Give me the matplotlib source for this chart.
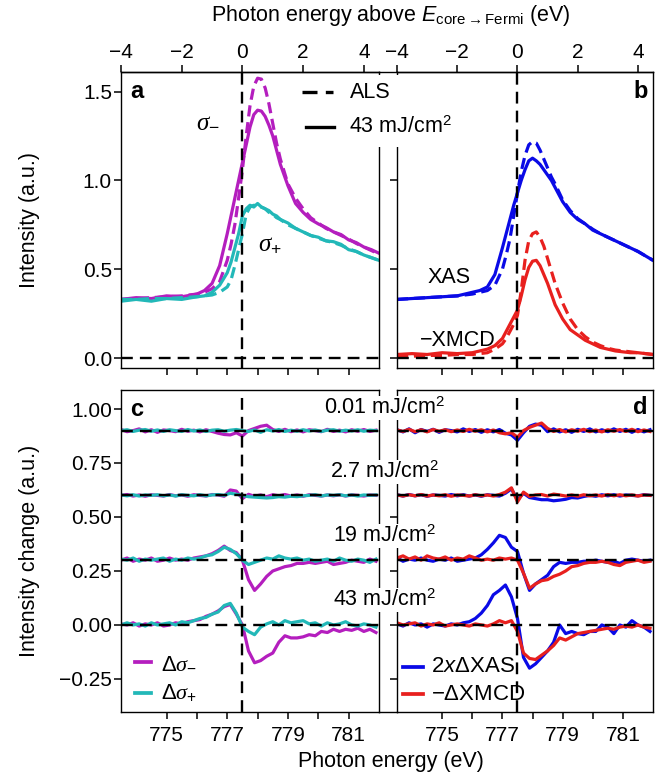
import numpy as np
import matplotlib
matplotlib.use('Agg')
import matplotlib.pyplot as plt
from matplotlib.lines import Line2D
from matplotlib.patches import Rectangle

plt.rcParams['font.family'] = ['Liberation Sans', 'DejaVu Sans']
plt.rcParams['mathtext.fontset'] = 'custom'
plt.rcParams['mathtext.rm'] = 'Liberation Sans'
plt.rcParams['mathtext.sf'] = 'Liberation Sans'
plt.rcParams['mathtext.it'] = 'Liberation Serif:italic'
plt.rcParams['mathtext.cal'] = 'Liberation Sans:italic'
plt.rcParams['mathtext.bf'] = 'Liberation Sans:bold'

# ---------------- data ----------------
E_F = 777.5
E_ab = [773.5, 774.0, 774.5, 775.0, 775.5, 776.0, 776.25, 776.5, 776.75, 777.0,
        777.125, 777.25, 777.375, 777.5, 777.625, 777.75, 777.875, 778.0, 778.125,
        778.25, 778.375, 778.5, 778.625, 778.75, 779.0, 779.25, 779.5, 779.75, 780.0,
        780.25, 780.5, 780.75, 781.0, 781.25, 781.5, 781.75, 782.0]

sig_minus_als = [0.33, 0.335, 0.34, 0.345, 0.35, 0.36, 0.37, 0.39, 0.43, 0.55, 0.64, 0.75, 0.9,
                 1.06, 1.25, 1.42, 1.53, 1.575, 1.57, 1.52, 1.43, 1.32, 1.21, 1.12, 0.98, 0.9,
                 0.84, 0.79, 0.76, 0.73, 0.71, 0.69, 0.67, 0.645, 0.625, 0.605, 0.585]
sig_minus_43 = [0.33, 0.34, 0.335, 0.35, 0.345, 0.36, 0.38, 0.42, 0.52, 0.70, 0.80, 0.90, 1.0,
                1.10, 1.2, 1.3, 1.37, 1.395, 1.39, 1.36, 1.31, 1.25, 1.17, 1.09, 0.97, 0.87,
                0.82, 0.78, 0.755, 0.735, 0.71, 0.695, 0.665, 0.65, 0.625, 0.61, 0.59]
sig_plus_als = [0.33, 0.33, 0.335, 0.335, 0.34, 0.345, 0.35, 0.355, 0.37, 0.40, 0.44, 0.52, 0.61,
                0.70, 0.81, 0.85, 0.86, 0.855, 0.85, 0.84, 0.82, 0.81, 0.79, 0.78, 0.75, 0.73,
                0.71, 0.69, 0.675, 0.66, 0.65, 0.635, 0.615, 0.60, 0.58, 0.565, 0.55]
sig_plus_43 = [0.32, 0.33, 0.32, 0.335, 0.33, 0.345, 0.35, 0.37, 0.41, 0.48, 0.54, 0.62, 0.70,
               0.80, 0.84, 0.86, 0.85, 0.87, 0.85, 0.84, 0.83, 0.81, 0.80, 0.78, 0.76, 0.73,
               0.71, 0.69, 0.68, 0.66, 0.655, 0.64, 0.61, 0.60, 0.58, 0.565, 0.55]

xas_als = [0.33, 0.335, 0.34, 0.345, 0.35, 0.36, 0.37, 0.38, 0.41, 0.50, 0.58, 0.67, 0.80, 0.93,
           1.05, 1.14, 1.20, 1.218, 1.21, 1.17, 1.12, 1.07, 1.02, 0.98, 0.89, 0.83, 0.785, 0.755,
           0.725, 0.70, 0.68, 0.66, 0.64, 0.62, 0.60, 0.575, 0.55]
xas_43 = [0.33, 0.335, 0.34, 0.345, 0.35, 0.37, 0.38, 0.40, 0.47, 0.62, 0.70, 0.78, 0.86, 0.93,
          1.0, 1.06, 1.11, 1.125, 1.11, 1.09, 1.06, 1.03, 1.0, 0.96, 0.88, 0.82, 0.78, 0.755,
          0.72, 0.70, 0.68, 0.66, 0.64, 0.62, 0.60, 0.575, 0.55]
xmcd_als = [0.01, 0.01, 0.015, 0.015, 0.02, 0.02, 0.025, 0.03, 0.05, 0.08, 0.11, 0.15, 0.19, 0.24,
            0.38, 0.55, 0.66, 0.70, 0.71, 0.68, 0.63, 0.56, 0.49, 0.42, 0.31, 0.22, 0.16, 0.12,
            0.09, 0.07, 0.055, 0.045, 0.04, 0.035, 0.03, 0.025, 0.02]
xmcd_43 = [0.02, 0.025, 0.02, 0.03, 0.025, 0.03, 0.04, 0.05, 0.07, 0.11, 0.15, 0.19, 0.23, 0.27,
           0.35, 0.44, 0.51, 0.545, 0.55, 0.52, 0.47, 0.42, 0.36, 0.30, 0.22, 0.16, 0.13, 0.10,
           0.08, 0.06, 0.05, 0.04, 0.035, 0.03, 0.03, 0.025, 0.02]

E_cd = [773.5, 773.7, 773.9, 774.1, 774.3, 774.5, 774.7, 774.9, 775.1, 775.3, 775.5, 775.7,
        775.9, 776.1, 776.3, 776.5, 776.7, 776.9, 777.1, 777.3, 777.5, 777.7, 777.9, 778.1,
        778.3, 778.5, 778.7, 778.9, 779.1, 779.3, 779.5, 779.7, 779.9, 780.1, 780.3, 780.5,
        780.7, 780.9, 781.1, 781.3, 781.5, 781.7, 781.9]
fluences = ['0.01', '2.7', '19', '43']
offsets = [0.9, 0.6, 0.3, 0.0]

d_sig_minus = {
    '0.01': [0.005, -0.005, 0.0, 0.008, -0.006, 0.004, -0.008, 0.003, 0.0, -0.005, 0.006, -0.003,
             0.002, -0.006, 0.004, -0.004, -0.012, -0.018, -0.02, -0.01, -0.025, 0.0, 0.01,
             0.02, 0.025, 0.005, -0.004, 0.006, -0.005, 0.003, -0.006, 0.004, 0.0, -0.005, 0.006,
             -0.004, 0.002, -0.006, 0.004, -0.003, 0.005, -0.004, 0.002],
    '2.7': [0.0, 0.004, -0.003, 0.002, -0.004, 0.003, 0.0, -0.003, 0.004, -0.002, 0.002, -0.004,
            0.003, 0.0, -0.003, 0.004, 0.002, -0.004, 0.025, 0.02, -0.015, 0.005, -0.004,
            0.002, -0.006, 0.003, -0.002, 0.004, -0.003, 0.002, -0.004, 0.003, 0.0, -0.003, 0.002,
            -0.002, 0.003, -0.003, 0.002, 0.0, -0.003, 0.002, 0.0],
    '19': [0.0, 0.01, -0.005, 0.005, 0.0, 0.01, -0.005, 0.0, 0.01, 0.0, 0.005, 0.0, 0.01,
           0.015, 0.02, 0.03, 0.045, 0.065, 0.045, 0.035, 0.0, -0.09, -0.14, -0.11, -0.075,
           -0.05, -0.04, -0.03, -0.025, -0.015, -0.015, -0.01, -0.015, -0.01, -0.005, -0.02,
           -0.015, -0.01, 0.0, -0.005, -0.01, 0.005, -0.005],
    '43': [0.005, 0.0, 0.01, -0.005, 0.005, 0.0, 0.01, -0.005, 0.0, 0.01, 0.005, 0.015, 0.02,
           0.025, 0.04, 0.05, 0.065, 0.085, 0.095, 0.05, 0.0, -0.12, -0.175, -0.165, -0.145,
           -0.13, -0.08, -0.05, -0.06, -0.06, -0.055, -0.045, -0.05, -0.03, -0.035, -0.02,
           -0.03, -0.02, -0.025, -0.015, -0.03, -0.02, -0.035],
}
d_sig_plus = {
    '0.01': [0.0, 0.004, -0.004, 0.002, 0.005, -0.003, 0.003, -0.004, 0.004, 0.0, -0.004, 0.005,
             -0.002, 0.003, -0.004, 0.002, 0.004, -0.003, 0.002, 0.005, 0.0, -0.004, 0.003,
             -0.008, 0.004, -0.002, 0.005, -0.004, 0.002, -0.003, 0.004, -0.002, 0.003, -0.004,
             0.002, 0.004, -0.003, 0.002, -0.002, 0.004, -0.003, 0.002, 0.0],
    '2.7': [0.002, -0.002, 0.003, -0.003, 0.002, 0.0, 0.003, -0.002, 0.002, -0.003, 0.003, 0.0,
            -0.002, 0.003, -0.002, 0.002, 0.004, 0.0, 0.01, 0.005, 0.0, -0.006, -0.008, -0.01,
            -0.012, -0.01, -0.006, -0.008, -0.004, -0.006, -0.002, 0.0, 0.003, -0.003, 0.002,
            0.0, 0.003, -0.002, 0.002, -0.003, 0.002, 0.0, 0.002],
    '19': [0.005, 0.0, 0.01, -0.005, 0.005, 0.0, 0.005, 0.01, -0.005, 0.005, 0.0, 0.01, 0.005,
           0.01, 0.02, 0.025, 0.04, 0.06, 0.05, 0.03, 0.0, -0.02, -0.01, 0.0, 0.01, 0.005, 0.02,
           0.01, 0.005, 0.01, 0.0, 0.005, -0.005, 0.0, 0.005, -0.005, 0.01, 0.0, -0.005, 0.005,
           0.0, -0.01, 0.005],
    '43': [0.0, 0.01, 0.0, 0.005, -0.005, 0.01, 0.0, 0.005, 0.01, 0.0, 0.015, 0.01, 0.02, 0.03,
           0.035, 0.05, 0.06, 0.09, 0.10, 0.055, -0.01, -0.03, -0.045, -0.01, 0.005, 0.015, 0.0,
           0.02, 0.01, 0.015, 0.02, 0.005, 0.01, -0.005, 0.01, 0.0, 0.005, 0.015, 0.0, -0.005,
           0.005, 0.0, -0.01],
}
d_xas2 = {
    '0.01': [0.004, -0.006, 0.008, -0.01, 0.005, -0.004, 0.006, -0.008, 0.004, 0.0, -0.006, 0.008,
             -0.004, 0.005, -0.008, 0.004, -0.006, 0.005, -0.012, -0.02, -0.045, -0.01, 0.02,
             0.03, 0.025, -0.005, 0.008, -0.006, 0.004, -0.008, 0.006, -0.004, 0.008, -0.006,
             0.004, -0.005, 0.008, -0.004, 0.006, -0.008, 0.005, -0.006, 0.004],
    '2.7': [0.003, -0.003, 0.004, -0.002, 0.003, -0.004, 0.002, 0.0, -0.003, 0.004, -0.002,
            0.003, -0.003, 0.002, -0.004, 0.003, 0.0, -0.003, 0.01, 0.03, -0.02, 0.01, -0.01,
            -0.015, -0.02, -0.02, -0.025, -0.022, -0.018, -0.01, -0.012, -0.005, 0.0, -0.004,
            0.003, -0.002, 0.003, -0.003, 0.002, 0.0, -0.002, 0.003, 0.0],
    '19': [0.01, -0.005, 0.005, 0.0, 0.01, 0.0, -0.005, 0.005, 0.0, 0.01, -0.005, 0.0, 0.005,
           0.01, 0.025, 0.05, 0.08, 0.115, 0.105, 0.06, 0.04, -0.06, -0.14, -0.11, -0.09,
           -0.07, -0.03, -0.01, -0.015, -0.01, -0.01, -0.005, -0.005, 0.0, -0.005, -0.01,
           -0.005, -0.015, 0.0, 0.005, 0.0, -0.005, 0.0],
    '43': [0.005, -0.005, 0.01, 0.0, 0.005, -0.01, 0.005, 0.0, -0.005, 0.005, 0.0, 0.01, 0.015,
           0.03, 0.055, 0.09, 0.14, 0.16, 0.185, 0.13, 0.03, -0.15, -0.20, -0.18, -0.15, -0.12,
           -0.08, 0.0, -0.04, -0.03, -0.04, -0.045, -0.03, -0.03, 0.0, -0.01, -0.04, 0.0, -0.01,
           0.02, 0.0, -0.01, -0.03],
}
d_xmcd = {
    '0.01': [0.003, -0.004, 0.006, -0.005, 0.004, -0.006, 0.005, -0.003, 0.004, -0.005, 0.003,
             -0.004, 0.006, -0.003, 0.004, -0.006, 0.003, -0.01, -0.015, -0.01, -0.03, 0.0,
             0.015, 0.025, 0.035, 0.01, -0.004, 0.005, -0.006, 0.004, -0.003, 0.006, -0.005,
             0.003, -0.006, 0.004, -0.003, 0.005, -0.004, 0.006, -0.005, 0.003, -0.004],
    '2.7': [0.002, -0.003, 0.003, -0.002, 0.004, -0.003, 0.002, -0.002, 0.003, -0.004, 0.002,
            0.0, -0.003, 0.003, -0.002, 0.002, -0.003, 0.004, 0.015, 0.035, -0.03, 0.015,
            -0.005, 0.002, 0.004, -0.003, 0.006, 0.002, -0.003, 0.002, -0.004, 0.003, -0.002,
            0.002, -0.003, 0.004, -0.002, 0.003, -0.002, 0.002, -0.003, 0.002, 0.0],
    '19': [0.01, 0.02, 0.005, 0.015, 0.0, 0.02, 0.01, 0.005, 0.015, 0.0, 0.01, 0.005, 0.02,
           0.01, 0.0, 0.005, 0.0, 0.01, 0.005, 0.01, 0.0, -0.06, -0.13, -0.11, -0.095, -0.09,
           -0.075, -0.065, -0.05, -0.03, -0.025, -0.015, -0.01, -0.01, -0.005, -0.01, -0.02,
           -0.025, -0.01, -0.005, 0.0, -0.01, -0.005],
    '43': [0.01, 0.0, 0.005, 0.01, -0.005, 0.005, 0.0, 0.01, -0.005, 0.0, 0.005, 0.0, -0.005,
           0.005, 0.0, -0.005, 0.005, 0.02, 0.01, 0.02, -0.03, -0.13, -0.155, -0.16, -0.14,
           -0.12, -0.095, -0.06, -0.07, -0.055, -0.04, -0.035, -0.03, -0.025, -0.02, -0.015,
           -0.02, -0.01, -0.005, -0.01, 0.0, -0.01, -0.015],
}

x_ticks = [775, 776, 777, 778, 779, 780, 781]
x_ticklabels = ['775', '', '777', '', '779', '', '781']
top_ticks = [-4, -2, 0, 2, 4]
yt_top = [0.0, 0.5, 1.0, 1.5]
yt_top_labels = ['0.0', '0.5', '1.0', '1.5']
yt_bot = [-0.25, 0.0, 0.25, 0.5, 0.75, 1.0]
yt_bot_labels = ['\u22120.25', '0.00', '0.25', '0.50', '0.75', '1.00']

# ---------------- style ----------------
MAG = '#B41EBE'
CYA = '#22B8B8'
BLU = '#0A0AE6'
RED = '#E8201E'
LW = 2.3
DASH = (0, (3.5, 1.8))
KDASH = (0, (5, 3))
FS = 15          # tick labels
FL = 15.5        # axis labels / annotations

W, H = 656, 775
fig = plt.figure(figsize=(W / 100, H / 100), dpi=100)


def fx(p):
    return p / W


def fy(p):
    return 1 - p / H


L0, L1 = 121, 379
R0, R1 = 397, 653
T0, T1 = 72, 368
B0, B1 = 390, 712
XLIM = (773.5, 782.0)

axA = fig.add_axes([fx(L0), fy(T1), (L1 - L0) / W, (T1 - T0) / H])
axB = fig.add_axes([fx(R0), fy(T1), (R1 - R0) / W, (T1 - T0) / H])
axC = fig.add_axes([fx(L0), fy(B1), (L1 - L0) / W, (B1 - B0) / H])
axD = fig.add_axes([fx(R0), fy(B1), (R1 - R0) / W, (B1 - B0) / H])

for ax in (axA, axB, axC, axD):
    ax.set_xlim(*XLIM)
    ax.set_xticks(x_ticks)
    ax.tick_params(axis='x', direction='out', length=5, width=1.1, labelsize=FS, pad=5)
    ax.tick_params(axis='y', direction='out', length=5, width=1.1, labelsize=FS, pad=1.5)
    for s in ax.spines.values():
        s.set_linewidth(1.0)
    ax.axvline(E_F, color='k', ls=KDASH, lw=1.7, zorder=5)

for ax in (axA, axB):
    ax.set_ylim(-0.056, 1.61)
    ax.set_yticks(yt_top)
    ax.set_xticklabels([])
    ax.axhline(0, color='k', ls=KDASH, lw=1.7, zorder=5)
    sec = ax.secondary_xaxis('top', functions=(lambda x: x - E_F, lambda x: x + E_F))
    sec.set_xticks(top_ticks)
    sec.set_xticklabels(['\u22124', '\u22122', '0', '2', '4'])
    sec.tick_params(direction='out', length=5, width=1.1, labelsize=FS, pad=2)
    sec.spines['top'].set_linewidth(1.0)
for ax in (axC, axD):
    ax.set_ylim(-0.403, 1.088)
    ax.set_yticks(yt_bot)
    ax.set_xticklabels(x_ticklabels)

axA.set_yticklabels(yt_top_labels)
axC.set_yticklabels(yt_bot_labels)
axB.set_yticklabels([])
axD.set_yticklabels([])

# panel a
axA.plot(E_ab, sig_minus_als, color=MAG, lw=LW, ls=DASH)
axA.plot(E_ab, sig_minus_43, color=MAG, lw=LW)
axA.plot(E_ab, sig_plus_als, color=CYA, lw=LW, ls=DASH)
axA.plot(E_ab, sig_plus_43, color=CYA, lw=LW)
# panel b
axB.plot(E_ab, xas_als, color=BLU, lw=LW, ls=DASH)
axB.plot(E_ab, xas_43, color=BLU, lw=LW)
axB.plot(E_ab, xmcd_als, color=RED, lw=LW, ls=DASH)
axB.plot(E_ab, xmcd_43, color=RED, lw=LW)
# panels c, d
for f, off in zip(fluences, offsets):
    axC.plot(E_cd, np.array(d_sig_minus[f]) + off, color=MAG, lw=LW)
    axC.plot(E_cd, np.array(d_sig_plus[f]) + off, color=CYA, lw=LW)
    axC.axhline(off, color='k', ls=KDASH, lw=1.7, zorder=5)
    axD.plot(E_cd, np.array(d_xas2[f]) + off, color=BLU, lw=LW)
    axD.plot(E_cd, np.array(d_xmcd[f]) + off, color=RED, lw=LW)
    axD.axhline(off, color='k', ls=KDASH, lw=1.7, zorder=5)

# continuous outer frame across the gap
for yy in (T0, B1):
    fig.add_artist(Line2D([fx(L1), fx(R0)], [fy(yy), fy(yy)], color='k', lw=1.0))

# legend (top) with white background covering gap spines
fig.add_artist(Rectangle((fx(296), fy(147)), (466 - 296) / W, (147 - 75) / H,
                         transform=fig.transFigure, facecolor='white', edgecolor='none', zorder=10))
fig.add_artist(Line2D([fx(302), fx(333)], [fy(92), fy(92)], color='k', lw=2.4, ls=(0, (4.5, 2.5)), zorder=11))
fig.add_artist(Line2D([fx(306), fx(334)], [fy(127), fy(127)], color='k', lw=2.4, zorder=11))
fig.text(fx(350), fy(92), 'ALS', fontsize=FL, va='center', ha='left', zorder=12)
fig.text(fx(349), fy(127), '43 mJ/cm$^2$', fontsize=FL, va='center', ha='left', zorder=12)

# fluence labels
for f, yy in zip(fluences, [408, 472, 536, 600]):
    fig.text(fx(384), fy(yy), f + ' mJ/cm$^2$', fontsize=FL, ha='center', va='center', zorder=12,
             bbox=dict(facecolor='white', edgecolor='none', pad=0.8))

# panel letters
fig.text(fx(130), fy(92), 'a', fontsize=17, fontweight='bold', va='center', ha='left')
fig.text(fx(648), fy(91), 'b', fontsize=17, fontweight='bold', va='center', ha='right')
fig.text(fx(130), fy(409), 'c', fontsize=17, fontweight='bold', va='center', ha='left')
fig.text(fx(648), fy(408), 'd', fontsize=17, fontweight='bold', va='center', ha='right')

# curve annotations
fig.text(fx(208), fy(120), r'$\sigma_{-}$', fontsize=18, ha='center', va='center')
fig.text(fx(270), fy(243), r'$\sigma_{+}$', fontsize=18, ha='center', va='center')
fig.text(fx(449), fy(278), 'XAS', fontsize=FL, ha='center', va='center')
fig.text(fx(458), fy(340), '\u2212XMCD', fontsize=FL, ha='center', va='center')

# bottom legends
for (x0, x1, xt, yy, col, lab) in [
        (135, 151, 161, 662, MAG, r'$\Delta\sigma_{-}$'),
        (135, 151, 161, 693, CYA, r'$\Delta\sigma_{+}$'),
        (403, 423, 431, 667, BLU, r'2$\mathcal{x}$$\Delta$XAS'),
        (403, 423, 431, 694, RED, '\u2212$\\Delta$XMCD')]:
    fig.add_artist(Line2D([fx(x0), fx(x1)], [fy(yy), fy(yy)], color=col, lw=LW + 0.4, zorder=11))
    fig.text(fx(xt), fy(yy), lab, fontsize=FL + 0.5, ha='left', va='center', zorder=12)

# axis labels
fig.text(fx(391), fy(15), r'Photon energy above $\mathcal{E}_{\mathsf{core}\rightarrow\mathsf{Fermi}}$ (eV)',
         fontsize=FL, ha='center', va='center')
fig.text(fx(391), fy(762), 'Photon energy (eV)', fontsize=FL, ha='center', va='center')
fig.text(fx(30), fy(220), 'Intensity (a.u.)', fontsize=FL, rotation=90, ha='center', va='center')
fig.text(fx(30), fy(551), 'Intensity change (a.u.)', fontsize=FL, rotation=90, ha='center', va='center')

fig.savefig('out.png', dpi=100)
